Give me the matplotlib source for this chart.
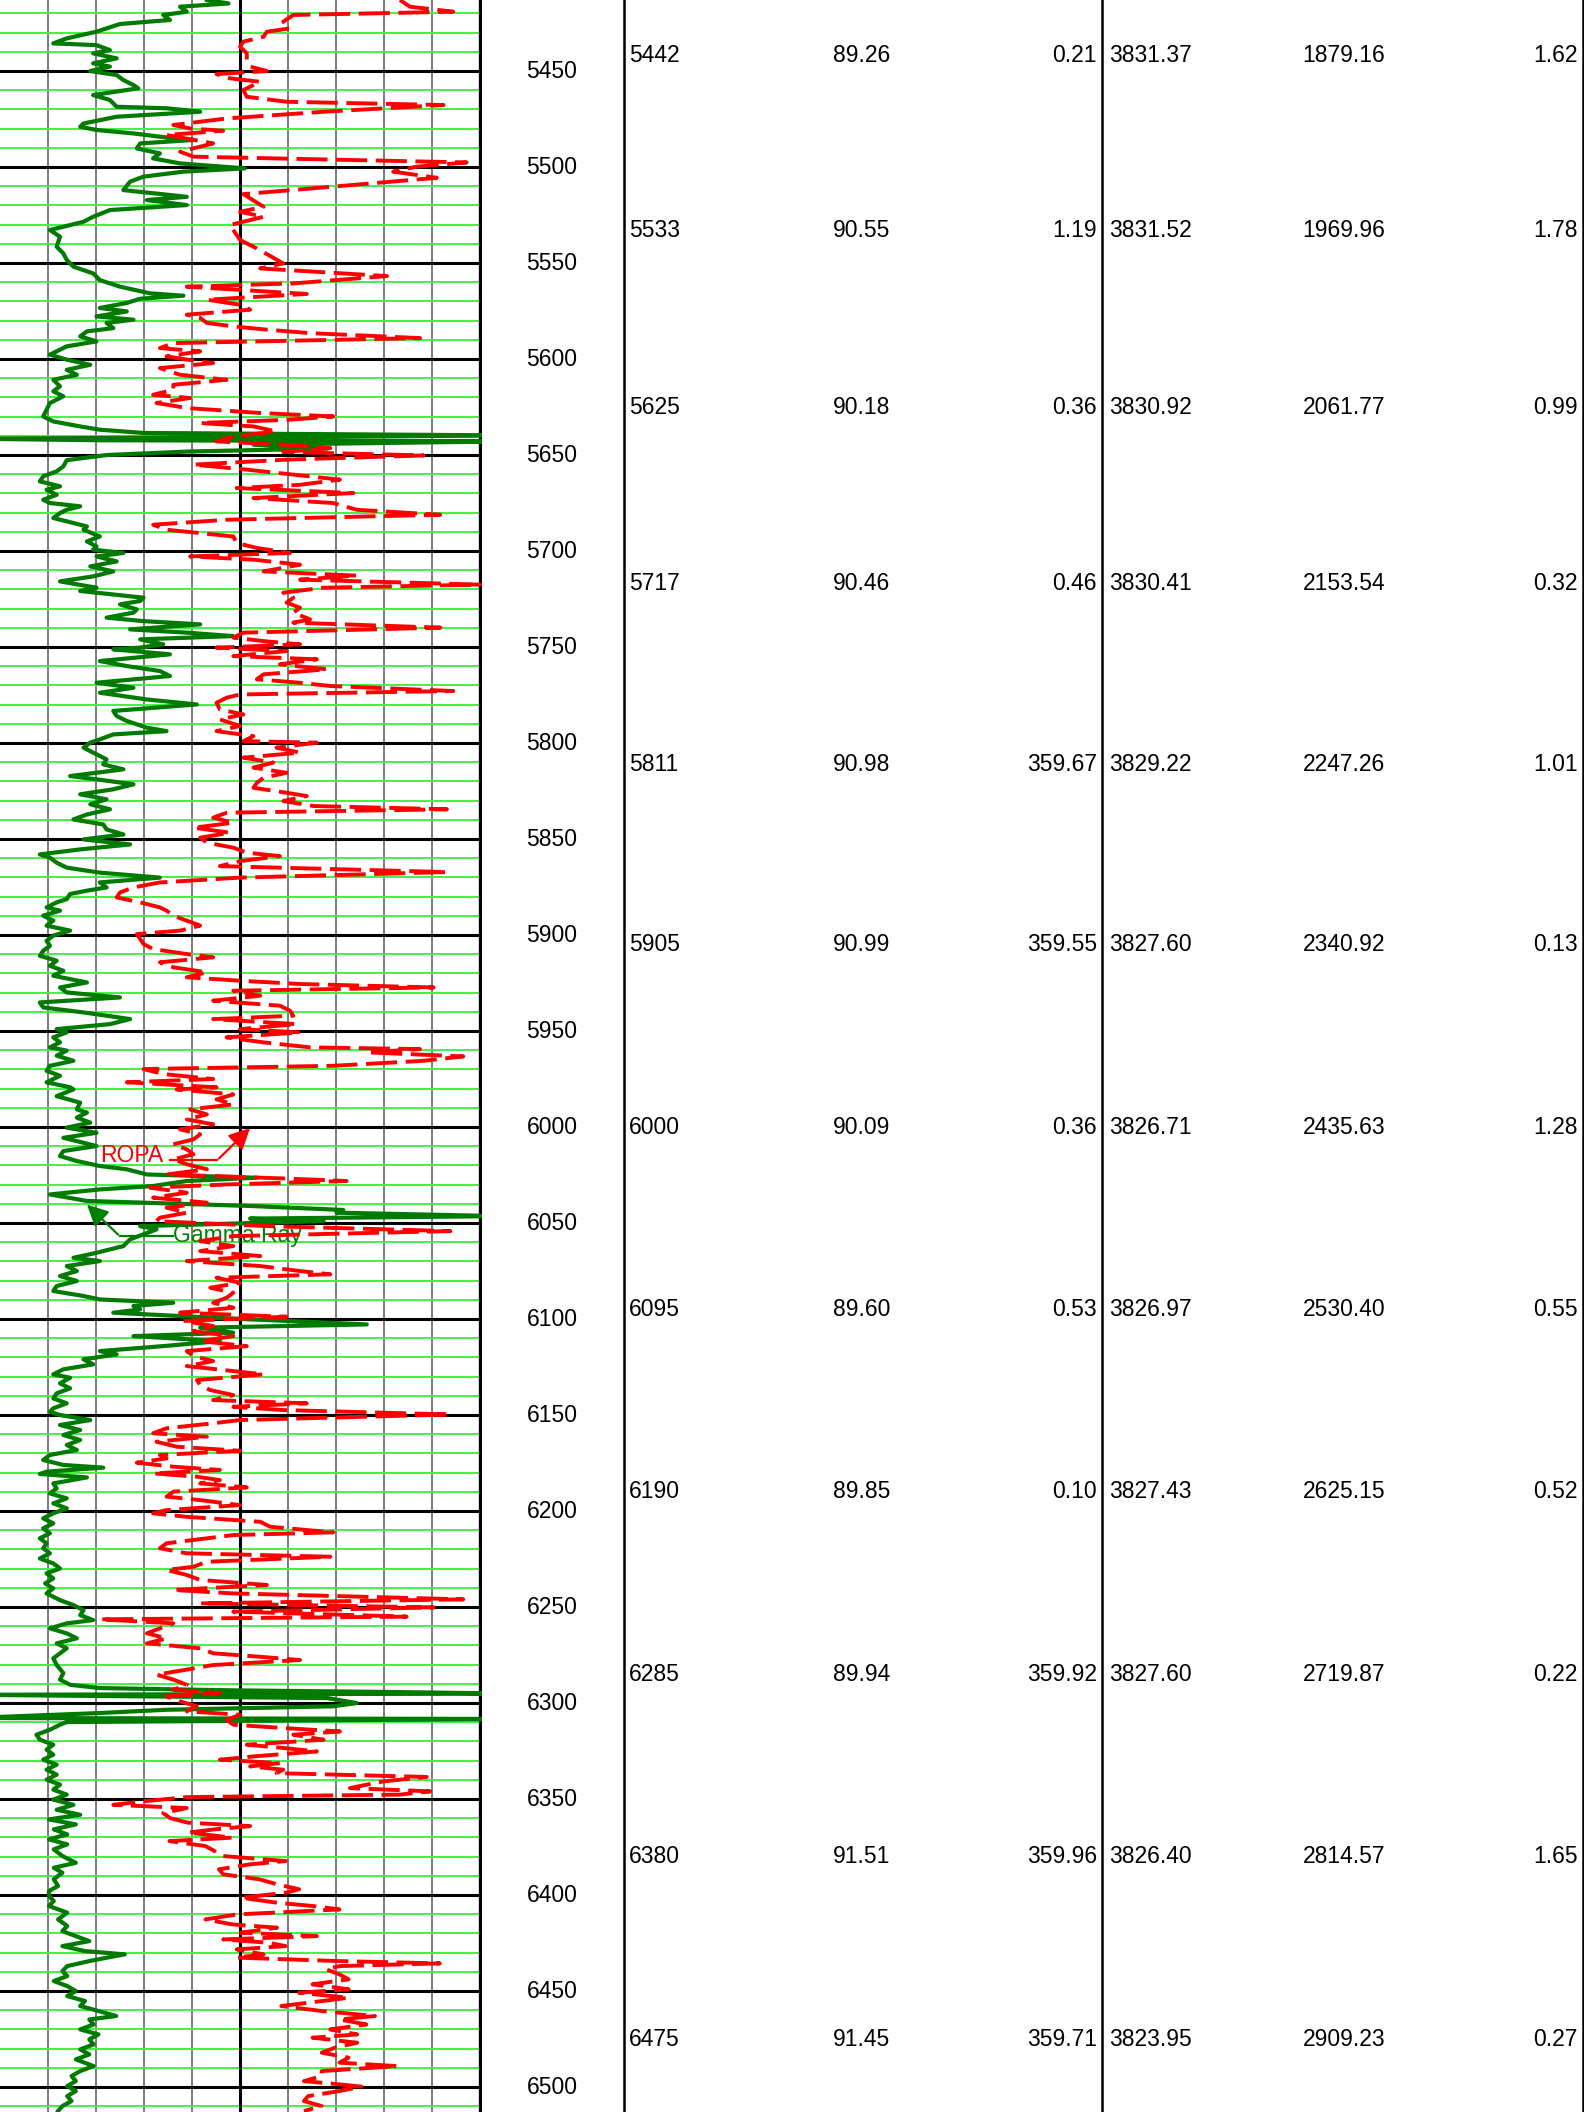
import matplotlib
matplotlib.use('Agg')
import matplotlib.pyplot as plt
import numpy as np

plt.rcParams['font.family'] = ['Liberation Sans', 'DejaVu Sans']

# ---- log curves (depth ft, value on 0-100 track scale) ----
gr_depth = [5413.0, 5414.8, 5416.5, 5419.1, 5420.8, 5423.4, 5425.5, 5429.5, 5433.0, 5435.6,
            5436.5, 5439.1, 5440.8, 5443.4, 5446.0, 5447.7, 5450.0, 5452.1, 5454.7, 5457.3,
            5459.0, 5462.5, 5465.1, 5468.6, 5469.4, 5471.2, 5473.8, 5477.3, 5479.0, 5480.7,
            5482.5, 5484.2, 5485.9, 5487.7, 5490.3, 5492.9, 5495.5, 5498.1, 5500.7, 5502.4,
            5505.0, 5507.6, 5512.0, 5515.5, 5517.2, 5519.8, 5522.4, 5525.9, 5528.5, 5532.8,
            5536.3, 5541.5, 5545.0, 5548.4, 5551.9, 5555.4, 5558.9, 5562.3, 5565.8, 5567.0,
            5568.6, 5570.8, 5573.4, 5575.2, 5577.8, 5579.5, 5581.2, 5583.9, 5585.6, 5588.2,
            5590.8, 5593.4, 5596.0, 5597.7, 5600.3, 5603.0, 5605.6, 5608.2, 5610.8, 5614.2,
            5616.8, 5619.4, 5622.9, 5626.4, 5629.9, 5632.5, 5635.1, 5636.8, 5638.5, 5639.8,
            5641.5, 5642.3, 5642.8, 5644.6, 5646.6, 5648.2, 5650.0, 5652.7, 5655.9, 5658.5,
            5661.1, 5663.7, 5666.3, 5668.1, 5670.7, 5673.3, 5675.0, 5676.7, 5678.5, 5680.2,
            5682.8, 5685.4, 5687.2, 5688.9, 5692.4, 5695.0, 5697.6, 5699.3, 5701.0, 5702.8,
            5705.4, 5708.0, 5710.6, 5713.2, 5715.8, 5719.1, 5720.8, 5722.6, 5724.3, 5726.0,
            5727.8, 5730.4, 5732.1, 5734.7, 5736.5, 5738.2, 5740.8, 5742.5, 5744.3, 5746.0,
            5748.6, 5750.3, 5751.2, 5753.8, 5757.3, 5759.9, 5762.5, 5765.1, 5768.6, 5771.2,
            5773.8, 5777.3, 5779.9, 5783.3, 5785.9, 5788.5, 5792.0, 5793.8, 5795.5, 5798.1,
            5799.8, 5802.4, 5805.0, 5808.5, 5811.1, 5813.7, 5817.2, 5818.9, 5821.5, 5824.1,
            5826.7, 5829.3, 5831.9, 5834.5, 5837.2, 5839.8, 5842.4, 5845.0, 5847.6, 5850.2,
            5852.8, 5855.4, 5858.0, 5859.7, 5862.3, 5864.9, 5867.5, 5870.1, 5872.6, 5875.2,
            5876.9, 5878.6, 5881.3, 5883.0, 5885.6, 5887.3, 5889.9, 5892.5, 5895.1, 5897.7,
            5900.3, 5903.0, 5905.6, 5908.2, 5910.8, 5913.4, 5916.0, 5918.6, 5921.2, 5924.7,
            5927.3, 5929.9, 5932.5, 5935.1, 5937.7, 5940.3, 5942.0, 5943.8, 5946.4, 5949.0,
            5950.7, 5953.3, 5955.9, 5958.5, 5960.2, 5962.8, 5965.5, 5968.1, 5970.7, 5973.3,
            5976.7, 5979.3, 5980.4, 5983.9, 5987.3, 5990.8, 5992.5, 5995.1, 5997.7, 6000.3,
            6003.0, 6005.6, 6008.2, 6009.9, 6012.5, 6015.1, 6017.7, 6020.3, 6022.0, 6024.7,
            6026.4, 6028.1, 6030.7, 6032.5, 6035.1, 6038.5, 6041.1, 6043.2, 6044.6, 6046.4,
            6047.7, 6049.0, 6051.6, 6053.3, 6058.5, 6062.0, 6065.5, 6068.1, 6069.8, 6072.4,
            6075.0, 6077.6, 6080.2, 6082.8, 6085.4, 6088.0, 6089.8, 6091.5, 6093.2, 6095.0,
            6096.7, 6099.3, 6102.8, 6104.5, 6107.1, 6108.9, 6111.5, 6114.1, 6116.7, 6118.4,
            6121.0, 6123.6, 6126.2, 6128.8, 6130.6, 6133.5, 6136.1, 6138.7, 6141.3, 6143.9,
            6146.5, 6148.3, 6150.0, 6152.6, 6155.2, 6157.8, 6160.4, 6163.0, 6165.6, 6168.2,
            6170.8, 6173.4, 6176.0, 6177.4, 6179.5, 6180.7, 6182.5, 6185.6, 6188.2, 6190.8,
            6193.4, 6196.0, 6198.6, 6201.2, 6203.8, 6206.4, 6209.0, 6211.6, 6214.2, 6216.8,
            6219.4, 6222.0, 6224.7, 6227.3, 6229.9, 6232.5, 6235.1, 6237.7, 6240.3, 6242.9,
            6246.4, 6249.0, 6251.6, 6254.2, 6256.8, 6258.5, 6261.1, 6263.7, 6266.3, 6268.9,
            6271.5, 6274.1, 6276.7, 6280.2, 6284.4, 6287.8, 6290.5, 6292.2, 6293.4, 6294.3,
            6295.1, 6295.7, 6297.4, 6300.0, 6301.7, 6303.5, 6305.2, 6307.8, 6308.3, 6309.9,
            6311.3, 6313.9, 6316.5, 6319.1, 6321.7, 6324.3, 6326.9, 6329.5, 6332.1, 6334.7,
            6337.3, 6339.9, 6342.5, 6345.1, 6347.7, 6350.3, 6353.0, 6355.6, 6358.2, 6360.6,
            6363.2, 6365.8, 6368.4, 6371.0, 6373.6, 6376.2, 6379.7, 6383.2, 6385.8, 6388.4,
            6391.8, 6395.3, 6397.9, 6400.5, 6403.1, 6405.7, 6409.2, 6412.7, 6416.1, 6418.8,
            6421.4, 6424.0, 6426.6, 6429.2, 6430.9, 6432.6, 6434.4, 6437.0, 6439.6, 6442.2,
            6444.8, 6447.4, 6450.0, 6452.6, 6455.2, 6457.8, 6460.4, 6463.0, 6464.8, 6467.4,
            6470.0, 6472.6, 6475.2, 6477.8, 6480.4, 6483.0, 6485.6, 6489.1, 6491.7, 6494.3,
            6496.9, 6499.5, 6502.1, 6504.7, 6507.3, 6509.9, 6512.5]
gr_api = [43.1, 47.6, 37.5, 38.9, 34.0, 35.4, 25.0, 20.1, 13.9, 11.1,
          20.1, 22.9, 19.4, 24.3, 19.4, 22.9, 18.8, 24.3, 25.7, 27.8,
          28.8, 19.4, 22.9, 24.3, 34.7, 41.7, 24.3, 17.4, 16.7, 20.1,
          27.8, 33.3, 40.3, 29.2, 28.5, 33.3, 31.9, 37.5, 51.0, 38.2,
          29.9, 27.1, 25.7, 38.9, 30.6, 38.9, 22.9, 19.4, 17.4, 10.4,
          12.5, 11.8, 13.2, 13.9, 15.3, 19.4, 20.8, 25.0, 31.3, 38.2,
          29.2, 26.4, 20.8, 26.4, 20.1, 27.8, 22.2, 23.6, 18.1, 16.7,
          20.1, 13.9, 11.8, 10.4, 13.9, 18.8, 13.9, 16.0, 11.1, 12.5,
          11.1, 13.2, 10.4, 9.7, 9.0, 11.1, 16.7, 20.8, 29.9, 108.0,
          -5.0, 20.8, 108.0, 52.8, 68.1, 38.9, 22.2, 13.9, 13.2, 11.8,
          9.0, 8.3, 12.5, 9.7, 11.8, 9.0, 10.4, 16.7, 13.9, 12.5,
          11.1, 15.3, 18.1, 17.4, 20.8, 18.1, 20.1, 19.4, 25.7, 20.1,
          24.3, 18.8, 23.6, 19.4, 12.5, 20.1, 16.7, 23.6, 29.9, 29.2,
          25.0, 28.5, 27.8, 22.2, 29.9, 41.7, 27.1, 38.9, 48.6, 29.2,
          34.0, 29.2, 23.6, 35.4, 20.8, 26.4, 33.3, 35.4, 20.1, 27.8,
          20.8, 30.6, 41.0, 23.6, 24.3, 26.4, 30.6, 34.7, 23.6, 20.8,
          18.8, 17.4, 19.4, 22.2, 21.5, 25.7, 14.6, 20.1, 27.8, 23.6,
          16.7, 22.2, 18.8, 22.9, 18.1, 15.3, 21.5, 22.2, 25.7, 17.4,
          27.1, 16.7, 8.3, 10.4, 11.8, 13.9, 20.8, 33.3, 20.8, 22.2,
          18.1, 14.6, 13.9, 11.8, 9.7, 12.5, 9.0, 11.1, 9.7, 14.6,
          11.1, 9.7, 10.4, 9.0, 8.3, 11.8, 10.4, 13.2, 11.1, 18.1,
          12.5, 13.9, 25.0, 8.3, 9.0, 17.4, 22.2, 27.1, 22.9, 11.8,
          13.9, 11.1, 12.5, 10.4, 13.9, 11.8, 15.3, 10.4, 9.7, 12.5,
          9.7, 14.6, 15.3, 11.8, 16.7, 16.0, 18.1, 16.0, 18.8, 13.9,
          20.1, 13.2, 17.4, 20.1, 13.2, 12.5, 16.0, 20.8, 26.4, 30.6,
          53.5, 38.9, 31.9, 20.8, 10.4, 18.1, 52.1, 71.5, 70.1, 104.0,
          52.1, 67.4, 29.2, 32.6, 27.1, 25.7, 20.1, 15.3, 20.8, 13.9,
          16.0, 12.5, 16.0, 11.8, 11.1, 17.4, 20.8, 36.1, 27.8, 29.2,
          23.6, 44.4, 76.4, 41.7, 48.6, 27.8, 45.8, 34.0, 20.8, 24.3,
          17.4, 19.4, 13.2, 11.1, 14.6, 12.5, 14.6, 11.8, 11.1, 13.9,
          11.1, 10.4, 12.5, 18.8, 12.5, 16.7, 13.2, 16.7, 13.9, 16.0,
          10.4, 9.0, 13.2, 21.5, 9.7, 8.3, 18.1, 11.1, 11.8, 10.4,
          13.9, 11.1, 13.9, 11.1, 9.0, 11.1, 9.0, 10.4, 8.3, 9.7,
          9.0, 10.4, 8.3, 11.1, 12.5, 9.7, 11.1, 9.4, 11.1, 9.7,
          12.5, 15.3, 17.4, 16.7, 19.4, 13.9, 10.4, 13.9, 16.0, 11.8,
          13.9, 12.5, 11.1, 11.8, 13.2, 12.5, 14.6, 20.8, 48.6, 83.3,
          106.0, -6.0, 68.1, 74.3, 69.4, 34.7, 20.8, -6.0, 106.0, 13.9,
          12.5, 10.4, 7.6, 8.3, 11.1, 9.7, 11.1, 9.0, 11.8, 9.7,
          11.8, 9.7, 12.5, 11.1, 13.9, 11.1, 15.3, 11.8, 16.7, 10.2,
          15.8, 11.2, 14.0, 10.2, 14.0, 11.2, 13.0, 15.8, 11.2, 13.0,
          11.2, 12.1, 10.2, 10.2, 11.2, 10.2, 14.0, 12.1, 14.0, 13.0,
          15.8, 18.6, 13.0, 17.7, 26.0, 22.3, 18.6, 14.0, 13.0, 14.0,
          11.2, 14.0, 15.8, 14.0, 17.7, 16.7, 20.5, 24.2, 18.6, 19.5,
          16.7, 20.5, 18.6, 19.5, 16.7, 18.6, 15.8, 19.5, 16.7, 14.9,
          15.8, 14.0, 15.8, 14.0, 14.9, 13.0, 12.1]

rop_depth = [5413.0, 5416.5, 5419.1, 5420.8, 5424.3, 5427.8, 5429.5, 5432.1, 5434.7, 5437.3,
             5440.8, 5444.3, 5447.7, 5450.0, 5451.6, 5453.8, 5455.6, 5459.9, 5463.4, 5466.0,
             5467.7, 5471.2, 5474.7, 5478.1, 5479.9, 5481.1, 5483.3, 5487.7, 5492.0, 5494.6,
             5497.6, 5499.8, 5502.4, 5505.6, 5510.2, 5514.1, 5520.7, 5523.3, 5525.9, 5530.2,
             5538.0, 5542.4, 5550.2, 5552.8, 5556.8, 5560.6, 5562.3, 5566.1, 5569.1, 5571.7,
             5574.3, 5576.9, 5578.6, 5581.2, 5583.0, 5584.7, 5586.5, 5589.1, 5591.7, 5594.3,
             5596.0, 5598.6, 5600.3, 5602.1, 5604.7, 5608.2, 5610.8, 5613.4, 5616.0, 5618.6,
             5620.3, 5622.9, 5625.5, 5628.1, 5629.9, 5631.6, 5633.3, 5635.1, 5637.7, 5640.3,
             5642.9, 5644.6, 5646.4, 5648.4, 5650.2, 5652.4, 5655.0, 5657.6, 5660.2, 5662.8,
             5665.5, 5667.2, 5669.8, 5672.4, 5675.0, 5678.5, 5681.1, 5683.7, 5686.3, 5688.9,
             5692.4, 5695.8, 5698.4, 5701.0, 5702.8, 5704.5, 5707.1, 5710.6, 5712.8, 5714.9,
             5717.5, 5719.1, 5721.7, 5724.3, 5726.9, 5729.5, 5732.1, 5735.6, 5737.3, 5739.9,
             5742.5, 5745.1, 5746.9, 5748.6, 5750.3, 5752.1, 5754.7, 5756.4, 5759.0, 5761.6,
             5764.2, 5766.8, 5768.6, 5770.3, 5772.9, 5774.7, 5776.4, 5779.0, 5782.5, 5785.1,
             5787.7, 5791.1, 5793.8, 5796.4, 5799.0, 5799.8, 5802.4, 5805.0, 5807.6, 5810.2,
             5812.8, 5815.5, 5818.1, 5820.7, 5823.3, 5825.9, 5827.6, 5830.2, 5832.8, 5834.5,
             5836.3, 5838.9, 5841.5, 5844.1, 5846.7, 5849.3, 5851.9, 5854.5, 5857.1, 5858.9,
             5861.5, 5864.1, 5867.2, 5870.1, 5872.6, 5875.2, 5877.8, 5880.4, 5883.0, 5885.6,
             5887.3, 5889.9, 5892.5, 5895.1, 5897.7, 5899.5, 5902.1, 5904.7, 5907.3, 5909.9,
             5911.6, 5914.2, 5916.8, 5919.4, 5922.0, 5923.8, 5925.5, 5927.3, 5929.0, 5931.6,
             5934.2, 5936.8, 5939.4, 5942.0, 5943.8, 5946.4, 5949.0, 5950.7, 5953.3, 5955.9,
             5958.5, 5959.4, 5961.1, 5963.2, 5965.5, 5968.1, 5969.8, 5972.4, 5975.0, 5976.7,
             5979.3, 5980.4, 5983.0, 5985.6, 5988.2, 5990.8, 5993.4, 5996.0, 5998.6, 6001.2,
             6003.8, 6006.4, 6009.0, 6011.6, 6014.2, 6016.8, 6019.4, 6022.0, 6024.7, 6026.9,
             6028.1, 6029.9, 6031.6, 6034.2, 6036.8, 6039.4, 6042.0, 6044.6, 6047.2, 6049.0,
             6051.6, 6054.2, 6056.8, 6059.4, 6062.0, 6064.6, 6067.2, 6069.8, 6072.4, 6075.0,
             6076.7, 6078.5, 6081.1, 6083.7, 6086.3, 6088.9, 6091.5, 6094.1, 6096.7, 6098.8,
             6101.0, 6103.6, 6106.3, 6108.9, 6111.5, 6114.1, 6116.7, 6119.3, 6121.9, 6124.5,
             6127.1, 6128.8, 6131.8, 6134.4, 6137.0, 6139.6, 6142.2, 6143.9, 6145.7, 6147.4,
             6149.7, 6152.6, 6154.3, 6156.9, 6159.5, 6161.3, 6163.9, 6166.5, 6168.6, 6170.8,
             6172.6, 6174.8, 6176.9, 6178.6, 6180.4, 6182.1, 6183.9, 6185.6, 6187.7, 6189.9,
             6192.5, 6194.3, 6196.9, 6199.5, 6201.2, 6203.0, 6205.6, 6208.2, 6211.1, 6212.5,
             6214.2, 6216.8, 6219.4, 6222.0, 6223.8, 6226.4, 6229.0, 6230.7, 6233.3, 6235.9,
             6238.5, 6241.1, 6242.9, 6246.0, 6248.1, 6250.2, 6252.4, 6255.0, 6256.4, 6258.5,
             6261.1, 6263.7, 6266.3, 6268.9, 6271.5, 6274.1, 6275.9, 6277.6, 6280.2, 6282.6,
             6285.2, 6287.8, 6290.5, 6293.1, 6294.8, 6296.5, 6299.1, 6301.7, 6304.3, 6306.1,
             6308.7, 6311.3, 6313.0, 6314.8, 6316.5, 6319.1, 6321.7, 6323.4, 6325.2, 6327.8,
             6329.5, 6331.3, 6333.0, 6334.7, 6336.5, 6338.5, 6340.8, 6342.5, 6344.3, 6346.0,
             6347.7, 6349.0, 6351.2, 6353.0, 6354.7, 6357.3, 6359.9, 6362.3, 6364.1, 6365.8,
             6367.5, 6370.1, 6371.9, 6374.5, 6377.1, 6379.7, 6382.3, 6384.0, 6386.6, 6389.2,
             6391.8, 6394.4, 6397.0, 6398.8, 6401.4, 6404.0, 6405.7, 6407.5, 6410.1, 6412.7,
             6415.3, 6417.0, 6419.6, 6421.4, 6423.1, 6424.8, 6426.6, 6428.3, 6430.9, 6432.6,
             6434.4, 6435.6, 6437.0, 6438.7, 6441.3, 6443.9, 6446.5, 6449.1, 6450.9, 6453.5,
             6455.2, 6457.8, 6460.4, 6463.0, 6464.8, 6467.4, 6470.0, 6472.6, 6474.3, 6476.9,
             6479.5, 6482.1, 6484.7, 6487.3, 6489.1, 6491.7, 6494.3, 6496.9, 6498.6, 6499.8,
             6502.1, 6504.7, 6507.3, 6509.9, 6512.5]
rop_fthr = [83.3, 85.4, 94.4, 61.1, 59.0, 60.4, 55.6, 54.9, 50.7, 50.0,
            51.4, 51.4, 52.1, 55.6, 45.1, 47.9, 54.2, 50.7, 51.4, 59.7,
            92.4, 67.4, 47.2, 36.1, 39.6, 46.5, 34.7, 44.4, 37.5, 40.3,
            97.2, 86.8, 81.9, 91.0, 69.4, 50.7, 54.9, 50.0, 54.9, 47.9,
            50.0, 53.5, 59.0, 54.2, 80.6, 61.1, 38.9, 63.9, 43.1, 50.0,
            52.1, 38.9, 41.7, 43.1, 48.6, 55.6, 64.6, 87.5, 36.1, 33.3,
            41.7, 34.7, 38.9, 44.4, 33.3, 37.5, 47.2, 36.1, 36.1, 31.9,
            39.6, 32.6, 38.9, 54.2, 69.4, 60.4, 41.7, 52.8, 57.6, 48.6,
            45.1, 59.0, 68.8, 59.0, 88.2, 59.7, 40.3, 51.4, 61.1, 70.8,
            62.5, 49.3, 73.6, 52.8, 69.4, 74.3, 91.7, 47.2, 31.9, 34.7,
            48.6, 49.3, 53.5, 60.4, 39.6, 52.8, 62.5, 54.9, 74.3, 62.5,
            100.0, 67.4, 59.0, 61.1, 59.7, 62.5, 61.1, 64.6, 61.1, 91.7,
            50.7, 48.6, 54.9, 62.5, 45.1, 59.7, 48.6, 66.0, 58.3, 68.1,
            54.9, 53.5, 62.5, 68.8, 94.4, 50.0, 47.2, 45.1, 45.8, 50.7,
            45.8, 50.0, 45.1, 52.8, 50.7, 66.0, 57.6, 62.5, 50.7, 56.9,
            52.8, 59.7, 54.9, 53.5, 52.8, 59.7, 63.9, 59.0, 65.3, 93.1,
            47.2, 44.4, 48.6, 40.3, 47.9, 41.7, 43.1, 48.6, 51.4, 58.3,
            50.0, 45.8, 93.1, 50.0, 33.3, 27.8, 25.0, 24.3, 29.2, 33.3,
            34.7, 36.1, 38.9, 41.7, 37.5, 28.5, 29.2, 29.9, 31.9, 38.9,
            44.4, 33.3, 36.1, 43.1, 38.9, 50.0, 62.5, 90.3, 48.6, 54.2,
            44.4, 58.3, 60.4, 61.1, 44.4, 61.8, 50.0, 62.5, 47.2, 54.9,
            64.6, 87.5, 76.4, 96.5, 88.2, 69.4, 29.9, 34.0, 44.4, 26.4,
            45.1, 36.8, 48.6, 45.1, 48.6, 39.6, 43.1, 38.9, 44.4, 37.5,
            41.7, 40.3, 36.1, 38.9, 40.3, 36.1, 38.9, 43.1, 34.7, 60.4,
            72.2, 47.2, 31.3, 38.9, 31.9, 43.1, 34.7, 38.9, 33.3, 32.6,
            55.6, 93.8, 48.6, 41.7, 48.6, 41.7, 54.2, 38.9, 54.2, 62.5,
            68.8, 45.1, 50.0, 43.8, 48.6, 47.2, 44.4, 48.6, 37.5, 59.7,
            38.2, 44.4, 40.3, 48.6, 41.7, 51.4, 38.9, 40.3, 44.4, 38.9,
            48.6, 54.9, 41.0, 41.7, 43.8, 48.6, 44.4, 63.9, 48.6, 59.0,
            93.8, 50.0, 44.4, 34.7, 31.9, 43.1, 32.6, 36.8, 50.0, 33.3,
            34.7, 28.5, 36.1, 45.8, 31.9, 41.0, 45.8, 41.7, 51.4, 36.1,
            34.7, 41.7, 50.0, 34.7, 31.9, 38.9, 54.2, 56.3, 69.4, 48.6,
            43.1, 34.7, 33.3, 38.9, 68.8, 43.1, 40.3, 34.7, 38.9, 41.7,
            55.6, 36.1, 48.6, 96.5, 41.7, 90.3, 48.6, 84.7, 20.8, 36.1,
            33.3, 30.6, 34.7, 30.6, 41.7, 44.4, 54.2, 62.5, 44.4, 38.9,
            32.6, 36.1, 38.9, 36.1, 45.8, 34.7, 37.5, 41.0, 38.9, 50.0,
            47.2, 48.6, 59.0, 70.8, 61.1, 67.4, 51.4, 59.0, 66.0, 52.8,
            45.8, 58.3, 52.1, 59.0, 57.6, 88.9, 79.9, 76.4, 72.9, 89.6,
            83.3, 38.9, 29.9, 23.6, 38.9, 34.0, 35.4, 39.1, 52.1, 44.7,
            39.1, 48.4, 35.3, 42.8, 44.7, 46.5, 59.5, 52.1, 45.6, 46.5,
            54.0, 57.7, 62.3, 59.5, 50.2, 57.7, 65.1, 70.7, 49.3, 42.8,
            48.4, 57.7, 50.2, 66.0, 46.5, 55.8, 59.5, 49.3, 54.9, 49.3,
            70.7, 91.6, 70.7, 67.9, 70.7, 72.6, 65.1, 72.6, 62.3, 72.6,
            67.0, 58.6, 67.0, 78.1, 70.7, 76.3, 68.8, 74.4, 65.1, 74.4,
            69.8, 67.0, 72.6, 70.7, 82.8, 67.0, 67.0, 63.3, 70.7, 75.3,
            70.7, 64.2, 63.3, 67.0, 63.3]

# ---- survey table ----
md = ['5442', '5533', '5625', '5717', '5811', '5905', '6000', '6095', '6190', '6285', '6380', '6475']
inc = ['89.26', '90.55', '90.18', '90.46', '90.98', '90.99', '90.09', '89.60', '89.85', '89.94', '91.51', '91.45']
azi = ['0.21', '1.19', '0.36', '0.46', '359.67', '359.55', '0.36', '0.53', '0.10', '359.92', '359.96', '359.71']
tvd = ['3831.37', '3831.52', '3830.92', '3830.41', '3829.22', '3827.60', '3826.71', '3826.97', '3827.43', '3827.60', '3826.40', '3823.95']
vs = ['1879.16', '1969.96', '2061.77', '2153.54', '2247.26', '2340.92', '2435.63', '2530.40', '2625.15', '2719.87', '2814.57', '2909.23']
dls = ['1.62', '1.78', '0.99', '0.32', '1.01', '0.13', '1.28', '0.55', '0.52', '0.22', '1.65', '0.27']

depth_top, depth_bot = 5413.0, 6513.0
W, H = 1584, 2112
fs = 16.5

fig = plt.figure(figsize=(W / 100, H / 100), dpi=100)
fig.patch.set_facecolor('white')

# log track
ax = fig.add_axes([0, 0, 482 / W, 1])
ax.set_xlim(0, 100.4)
ax.set_ylim(depth_bot, depth_top)
ax.axis('off')

for d in np.arange(5420, 6520, 10):
    if d % 50 == 0:
        ax.axhline(d, color='black', lw=2.2, zorder=2)
    else:
        ax.axhline(d, color='#44f044', lw=1.4, zorder=1.5)
for v in range(10, 100, 10):
    if v == 50:
        ax.axvline(v, color='black', lw=2.2, zorder=2)
    else:
        ax.axvline(v, color='#707070', lw=1.3, zorder=1)
ax.axvline(100, color='black', lw=2.4, zorder=2)

ax.plot(gr_api, gr_depth, color='#007a00', lw=3.0, zorder=4)
ax.plot(rop_fthr, rop_depth, color='#ff0000', lw=2.8, dashes=(8, 2.2), zorder=4)

# curve labels with leaders
ax.text(20.8, 6015.0, 'ROPA', color='#ff0000', fontsize=fs, ha='left', va='center', zorder=3)
ax.plot([35.4, 45.2], [6017.4, 6017.4], color='#ff0000', lw=1.6, zorder=3)
ax.annotate('', xy=(52.5, 5999.5), xytext=(45.2, 6017.4),
            arrowprops=dict(arrowstyle='-|>', color='#ff0000', lw=1.6, mutation_scale=32), zorder=3)
ax.text(36.0, 6056.3, 'Gamma Ray', color='#008000', fontsize=fs, ha='left', va='center', zorder=3)
ax.plot([36.0, 25.0], [6057.0, 6057.0], color='#008000', lw=1.6, zorder=3)
ax.annotate('', xy=(17.7, 6039.4), xytext=(25.0, 6057.0),
            arrowprops=dict(arrowstyle='-|>', color='#008000', lw=1.6, mutation_scale=32), zorder=3)

# depth labels + survey table
tb = fig.add_axes([482 / W, 0, 1 - 482 / W, 1])
tb.set_xlim(482, W)
tb.set_ylim(depth_bot, depth_top)
tb.axis('off')

for d in range(5450, 6501, 50):
    tb.text(552, d, str(d), fontsize=fs, ha='center', va='center')

for xl in [624, 1102, 1582.5]:
    tb.axvline(xl, color='black', lw=1.8)

for i in range(len(md)):
    d = float(md[i])
    tb.text(629, d, md[i], fontsize=fs, ha='left', va='center')
    tb.text(862, d, inc[i], fontsize=fs, ha='center', va='center')
    tb.text(1097, d, azi[i], fontsize=fs, ha='right', va='center')
    tb.text(1109, d, tvd[i], fontsize=fs, ha='left', va='center')
    tb.text(1344, d, vs[i], fontsize=fs, ha='center', va='center')
    tb.text(1578, d, dls[i], fontsize=fs, ha='right', va='center')

fig.savefig('out.png', dpi=100)
